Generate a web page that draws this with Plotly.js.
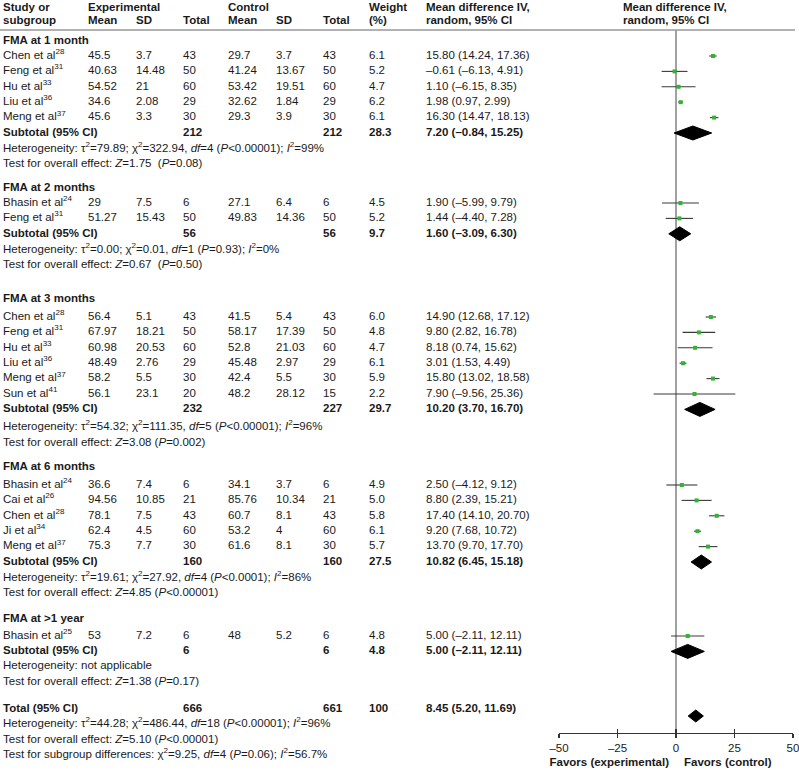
<!DOCTYPE html>
<html><head><meta charset="utf-8">
<script src="https://cdn.plot.ly/plotly-3.0.1.min.js"></script>
<style>html,body{margin:0;padding:0;background:#fff}#chart{width:799px;height:770px}</style>
</head><body><div id="chart"></div>
<script>
// ---------- DATA ----------
const groupNames = ["FMA at 1 month","FMA at 2 months","FMA at 3 months","FMA at 6 months","FMA at >1 year"];
const studyGroup = [0,0,0,0,0,1,1,2,2,2,2,2,2,3,3,3,3,3,4];
const studyName = ["Chen et al","Feng et al","Hu et al","Liu et al","Meng et al","Bhasin et al","Feng et al","Chen et al","Feng et al","Hu et al","Liu et al","Meng et al","Sun et al","Bhasin et al","Cai et al","Chen et al","Ji et al","Meng et al","Bhasin et al"];
const studyRef = [28,31,33,36,37,24,31,28,31,33,36,37,41,24,26,28,34,37,25];
const expMean = ["45.5","40.63","54.52","34.6","45.6","29","51.27","56.4","67.97","60.98","48.49","58.2","56.1","36.6","94.56","78.1","62.4","75.3","53"];
const expSD = ["3.7","14.48","21","2.08","3.3","7.5","15.43","5.1","18.21","20.53","2.76","5.5","23.1","7.4","10.85","7.5","4.5","7.7","7.2"];
const expN = [43,50,60,29,30,6,50,43,50,60,29,30,20,6,21,43,60,30,6];
const ctlMean = ["29.7","41.24","53.42","32.62","29.3","27.1","49.83","41.5","58.17","52.8","45.48","42.4","48.2","34.1","85.76","60.7","53.2","61.6","48"];
const ctlSD = ["3.7","13.67","19.51","1.84","3.9","6.4","14.36","5.4","17.39","21.03","2.97","5.5","28.12","3.7","10.34","8.1","4","8.1","5.2"];
const ctlN = [43,50,60,29,30,6,50,43,50,60,29,30,15,6,21,43,60,30,6];
const weight = ["6.1","5.2","4.7","6.2","6.1","4.5","5.2","6.0","4.8","4.7","6.1","5.9","2.2","4.9","5.0","5.8","6.1","5.7","4.8"];
const md = [15.80,-0.61,1.10,1.98,16.30,1.90,1.44,14.90,9.80,8.18,3.01,15.80,7.90,2.50,8.80,17.40,9.20,13.70,5.00];
const ciLo = [14.24,-6.13,-6.15,0.97,14.47,-5.99,-4.40,12.68,2.82,0.74,1.53,13.02,-9.56,-4.12,2.39,14.10,7.68,9.70,-2.11];
const ciHi = [17.36,4.91,8.35,2.99,18.13,9.79,7.28,17.12,16.78,15.62,4.49,18.58,25.36,9.12,15.21,20.70,10.72,17.70,12.11];

const subExpN = [212,56,232,160,6];
const subCtlN = [212,56,227,160,6];
const subWeight = ["28.3","9.7","29.7","27.5","4.8"];
const subMd = [7.20,1.60,10.20,10.82,5.00];
const subLo = [-0.84,-3.09,3.70,6.45,-2.11];
const subHi = [15.25,6.30,16.70,15.18,12.11];
const subHet = [
 "Heterogeneity: τ<sup>2</sup>=79.89; χ<sup>2</sup>=322.94, <i>df</i>=4 (<i>P</i>&lt;0.00001); <i>I</i><sup>2</sup>=99%",
 "Heterogeneity: τ<sup>2</sup>=0.00; χ<sup>2</sup>=0.01, <i>df</i>=1 (<i>P</i>=0.93); <i>I</i><sup>2</sup>=0%",
 "Heterogeneity: τ<sup>2</sup>=54.32; χ<sup>2</sup>=111.35, <i>df</i>=5 (<i>P</i>&lt;0.00001); <i>I</i><sup>2</sup>=96%",
 "Heterogeneity: τ<sup>2</sup>=19.61; χ<sup>2</sup>=27.92, <i>df</i>=4 (<i>P</i>&lt;0.0001); <i>I</i><sup>2</sup>=86%",
 "Heterogeneity: not applicable"];
const subTest = [
 "Test for overall effect: <i>Z</i>=1.75  (<i>P</i>=0.08)",
 "Test for overall effect: <i>Z</i>=0.67  (<i>P</i>=0.50)",
 "Test for overall effect: <i>Z</i>=3.08 (<i>P</i>=0.002)",
 "Test for overall effect: <i>Z</i>=4.85 (<i>P</i>&lt;0.00001)",
 "Test for overall effect: <i>Z</i>=1.38 (<i>P</i>=0.17)"];
const totExpN = 666, totCtlN = 661, totWeight = "100";
const totMd = 8.45, totLo = 5.20, totHi = 11.69;
const totLines = [
 "Heterogeneity: τ<sup>2</sup>=44.28; χ<sup>2</sup>=486.44, <i>df</i>=18 (<i>P</i>&lt;0.00001); <i>I</i><sup>2</sup>=96%",
 "Test for overall effect: <i>Z</i>=5.10 (<i>P</i>&lt;0.00001)",
 "Test for subgroup differences: χ<sup>2</sup>=9.25, <i>df</i>=4 (<i>P</i>=0.06); <i>I</i><sup>2</sup>=56.7%"];
const axisTicks = [-50,-25,0,25,50];
const axisTickText = ["–50","–25","0","25","50"];

// ---------- LAYOUT (pixel positions) ----------
const W = 799, H = 770;
const FONT = "Liberation Sans, Arial, sans-serif";
const FS = 11.5;
const TXT = "#1a1a1a";
const colX = [3, 88, 136, 183, 228, 276, 323, 369, 426];
const groupTop = [41, 188, 299, 467, 619];
const firstGap = [15, 15, 18, 18, 17];
const rowStep = 15.4;
const hetGap = [16, 16, 18, 16, 15];
const totalY = 709, totalLineY = [724, 740, 755];
const axisY = 733, headerLineY = 30;

function fmt(v){ const s = Math.abs(v).toFixed(2); return (v < 0 ? "–" : "") + s; }
function ciText(m, l, h){ return fmt(m) + " (" + fmt(l) + ", " + fmt(h) + ")"; }
function B(t){ return "<b>" + t + "</b>"; }

const tl = {x: [], y: [], t: []};
const tr = {x: [], y: [], t: []};
function cell(text, x, y, right){ const o = right ? tr : tl; o.x.push(x); o.y.push(y); o.t.push(text); }

cell(B("Study or"), colX[0], 8); cell(B("subgroup"), colX[0], 21);
cell(B("Experimental"), colX[1], 8);
cell(B("Mean"), colX[1], 21); cell(B("SD"), colX[2], 21); cell(B("Total"), colX[3], 21);
cell(B("Control"), colX[4], 8);
cell(B("Mean"), colX[4], 21); cell(B("SD"), colX[5], 21); cell(B("Total"), colX[6], 21);
cell(B("Weight"), colX[7], 8); cell(B("(%)"), colX[7], 21);
cell(B("Mean difference IV,"), colX[8], 8); cell(B("random, 95% CI"), colX[8], 21);
cell(B("Mean difference IV,"), 623, 8); cell(B("random, 95% CI"), 623, 21);

const studyY = [], subY = [];
for (let g = 0; g < groupNames.length; g++) {
  cell(B(groupNames[g].replace(">", "&gt;")), colX[0], groupTop[g]);
  let y = groupTop[g] + firstGap[g];
  for (let i = 0; i < studyName.length; i++) {
    if (studyGroup[i] !== g) continue;
    studyY[i] = y;
    cell(studyName[i] + "<sup>" + studyRef[i] + "</sup>", colX[0], y);
    cell(expMean[i], colX[1], y); cell(expSD[i], colX[2], y); cell(String(expN[i]), colX[3], y);
    cell(ctlMean[i], colX[4], y); cell(ctlSD[i], colX[5], y); cell(String(ctlN[i]), colX[6], y);
    cell(weight[i], colX[7], y);
    cell(ciText(md[i], ciLo[i], ciHi[i]), colX[8], y);
    y += rowStep;
  }
  subY[g] = y;
  cell(B("Subtotal (95% CI)"), colX[0], y);
  cell(B(String(subExpN[g])), colX[3], y); cell(B(String(subCtlN[g])), colX[6], y);
  cell(B(subWeight[g]), colX[7], y);
  cell(B(ciText(subMd[g], subLo[g], subHi[g])), colX[8], y);
  cell(subHet[g], colX[0], y + hetGap[g]);
  cell(subTest[g], colX[0], y + hetGap[g] + rowStep);
}
cell(B("Total (95% CI)"), colX[0], totalY);
cell(B(String(totExpN)), colX[3], totalY); cell(B(String(totCtlN)), colX[6], totalY);
cell(B(totWeight), colX[7], totalY);
cell(B(ciText(totMd, totLo, totHi)), colX[8], totalY);
totLines.forEach((t, k) => cell(t, colX[0], totalLineY[k]));
cell(B("Favors (experimental)"), 669, 763, true);
cell(B("Favors (control)"), 684, 763);

// ---------- TRACES ----------
const traces = [];
const tfont = {family: FONT, size: FS, color: TXT};
traces.push({x: tl.x, y: tl.y, text: tl.t, mode: "text", textposition: "middle right", textfont: tfont,
  xaxis: "x2", yaxis: "y", cliponaxis: false, hoverinfo: "skip", showlegend: false});
traces.push({x: tr.x, y: tr.y, text: tr.t, mode: "text", textposition: "middle left", textfont: tfont,
  xaxis: "x2", yaxis: "y", cliponaxis: false, hoverinfo: "skip", showlegend: false});
traces.push({x: [0, 0], y: [headerLineY, axisY], mode: "lines", line: {color: "#8a8a8a", width: 1.6},
  hoverinfo: "skip", showlegend: false});
const cx = [], cy = [];
for (let i = 0; i < md.length; i++) { cx.push(ciLo[i], ciHi[i], null); cy.push(studyY[i], studyY[i], null); }
traces.push({x: cx, y: cy, mode: "lines", line: {color: "#3a3a3a", width: 1.1}, hoverinfo: "skip", showlegend: false, cliponaxis: false});
traces.push({x: md, y: studyY, mode: "markers", marker: {symbol: "square", size: 4, color: "#2fb52f"},
  showlegend: false, cliponaxis: false});
function diamond(m, l, h, y, hh){
  traces.push({x: [l, m, h, m, l], y: [y, y - hh, y, y + hh, y], mode: "lines", fill: "toself",
    fillcolor: "#000", line: {color: "#000", width: 1}, hoverinfo: "skip", showlegend: false});
}
for (let g = 0; g < subMd.length; g++) diamond(subMd[g], subLo[g], subHi[g], subY[g], 7);
diamond(totMd, totLo, totHi, totalY + 7, 6);
traces.push({x: [0], y: [0], xaxis: "x3", yaxis: "y", mode: "markers", marker: {opacity: 0}, hoverinfo: "skip", showlegend: false});

const axisCommon = {domain: [559 / W, 793 / W], range: [-50, 50], anchor: "free", position: 1 - axisY / H,
  showgrid: false, zeroline: false, tickvals: axisTicks, tickwidth: 1.4, tickcolor: "#333", fixedrange: true};
const layout = {
  width: W, height: H, margin: {l: 0, r: 0, t: 0, b: 0},
  paper_bgcolor: "#fff", plot_bgcolor: "rgba(0,0,0,0)", showlegend: false,
  xaxis: Object.assign({}, axisCommon, {showline: true, linecolor: "#333", linewidth: 1.4,
    ticks: "outside", ticklen: 4, ticktext: axisTickText, ticklabeloverflow: "allow",
    tickfont: {family: FONT, size: FS, color: TXT}}),
  xaxis3: Object.assign({}, axisCommon, {overlaying: "x", showline: false, ticks: "inside", ticklen: 4,
    showticklabels: false}),
  xaxis2: {domain: [0, 1], range: [0, W], visible: false, anchor: "y", fixedrange: true},
  yaxis: {domain: [0, 1], range: [H, 0], visible: false, fixedrange: true},
  shapes: [{type: "line", xref: "paper", yref: "paper", x0: 0, x1: 795 / W,
    y0: 1 - headerLineY / H, y1: 1 - headerLineY / H, line: {color: "#999", width: 1.5}}]
};
Plotly.newPlot("chart", traces, layout, {staticPlot: true, displayModeBar: false});
</script></body></html>
